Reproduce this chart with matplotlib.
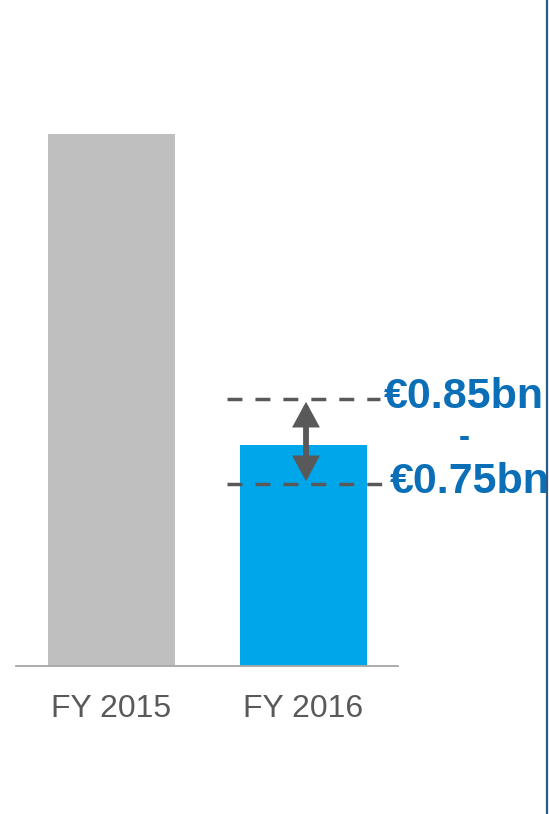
import matplotlib
matplotlib.use("Agg")
import matplotlib.pyplot as plt
from matplotlib.patches import FancyArrowPatch
from matplotlib.lines import Line2D

plt.rcParams['font.family'] = ['Liberation Sans', 'DejaVu Sans']

# Data (relative chart units as drawn; bars not labelled with values)
categories = ["FY 2015", "FY 2016"]
values = [5.32, 2.21]
bar_colors = ["#bfbfbf", "#00a6ea"]
guidance_high = 2.67
guidance_low = 1.82
label_high = "€0.85bn"
label_low = "€0.75bn"

fig = plt.figure(figsize=(5.49, 8.14), dpi=100)
W, H = 549, 814
ax = fig.add_axes([16 / W, 1 - 666 / H, (398 - 16) / W, 666 / H])

x = list(range(len(categories)))
ax.bar(x, values, width=0.661, color=bar_colors, zorder=2)
ax.set_xlim(-0.497, 1.492)
ax.set_ylim(0, 6.66)

for s in ["top", "right", "left"]:
    ax.spines[s].set_visible(False)
ax.spines["bottom"].set_color("#a6a6a6")
ax.spines["bottom"].set_linewidth(1.3)
ax.set_yticks([])
ax.set_xticks(x)
ax.set_xticklabels(categories, fontsize=23, color="#595959")
ax.tick_params(axis="x", length=0, pad=20)

dash = (0, (4.3, 3.75))
ax.hlines(guidance_high, 0.602, 1.398, colors="#595959", linewidth=2.5,
          linestyles=[dash], zorder=3)
ax.hlines(guidance_low, 0.602, 1.419, colors="#595959", linewidth=2.5,
          linestyles=[dash], zorder=3)

arrow = FancyArrowPatch((1.013, guidance_low), (1.013, guidance_high),
                        arrowstyle="<|-|>,head_length=12,head_width=6.5",
                        mutation_scale=1, color="#595959", linewidth=4.2,
                        joinstyle="miter", shrinkA=2, shrinkB=2, zorder=4)
ax.add_patch(arrow)

txt_color = "#0b6fb8"
ax.text(1.419, guidance_high - 0.09, label_high, ha="left", va="baseline",
        fontsize=31, fontweight="bold", color=txt_color, clip_on=False)
ax.text(1.835, (guidance_high + guidance_low) / 2 - 0.05, "-", ha="center", va="baseline",
        fontsize=24, fontweight="bold", color=txt_color, clip_on=False)
ax.text(1.4505, guidance_low - 0.09, label_low, ha="left", va="baseline",
        fontsize=31, fontweight="bold", color=txt_color, clip_on=False)

fig.add_artist(Line2D([546.5 / W, 546.5 / W], [0, 1], transform=fig.transFigure,
                      color="#2e5a8a", linewidth=1.6))

fig.savefig("out.png", dpi=100)
